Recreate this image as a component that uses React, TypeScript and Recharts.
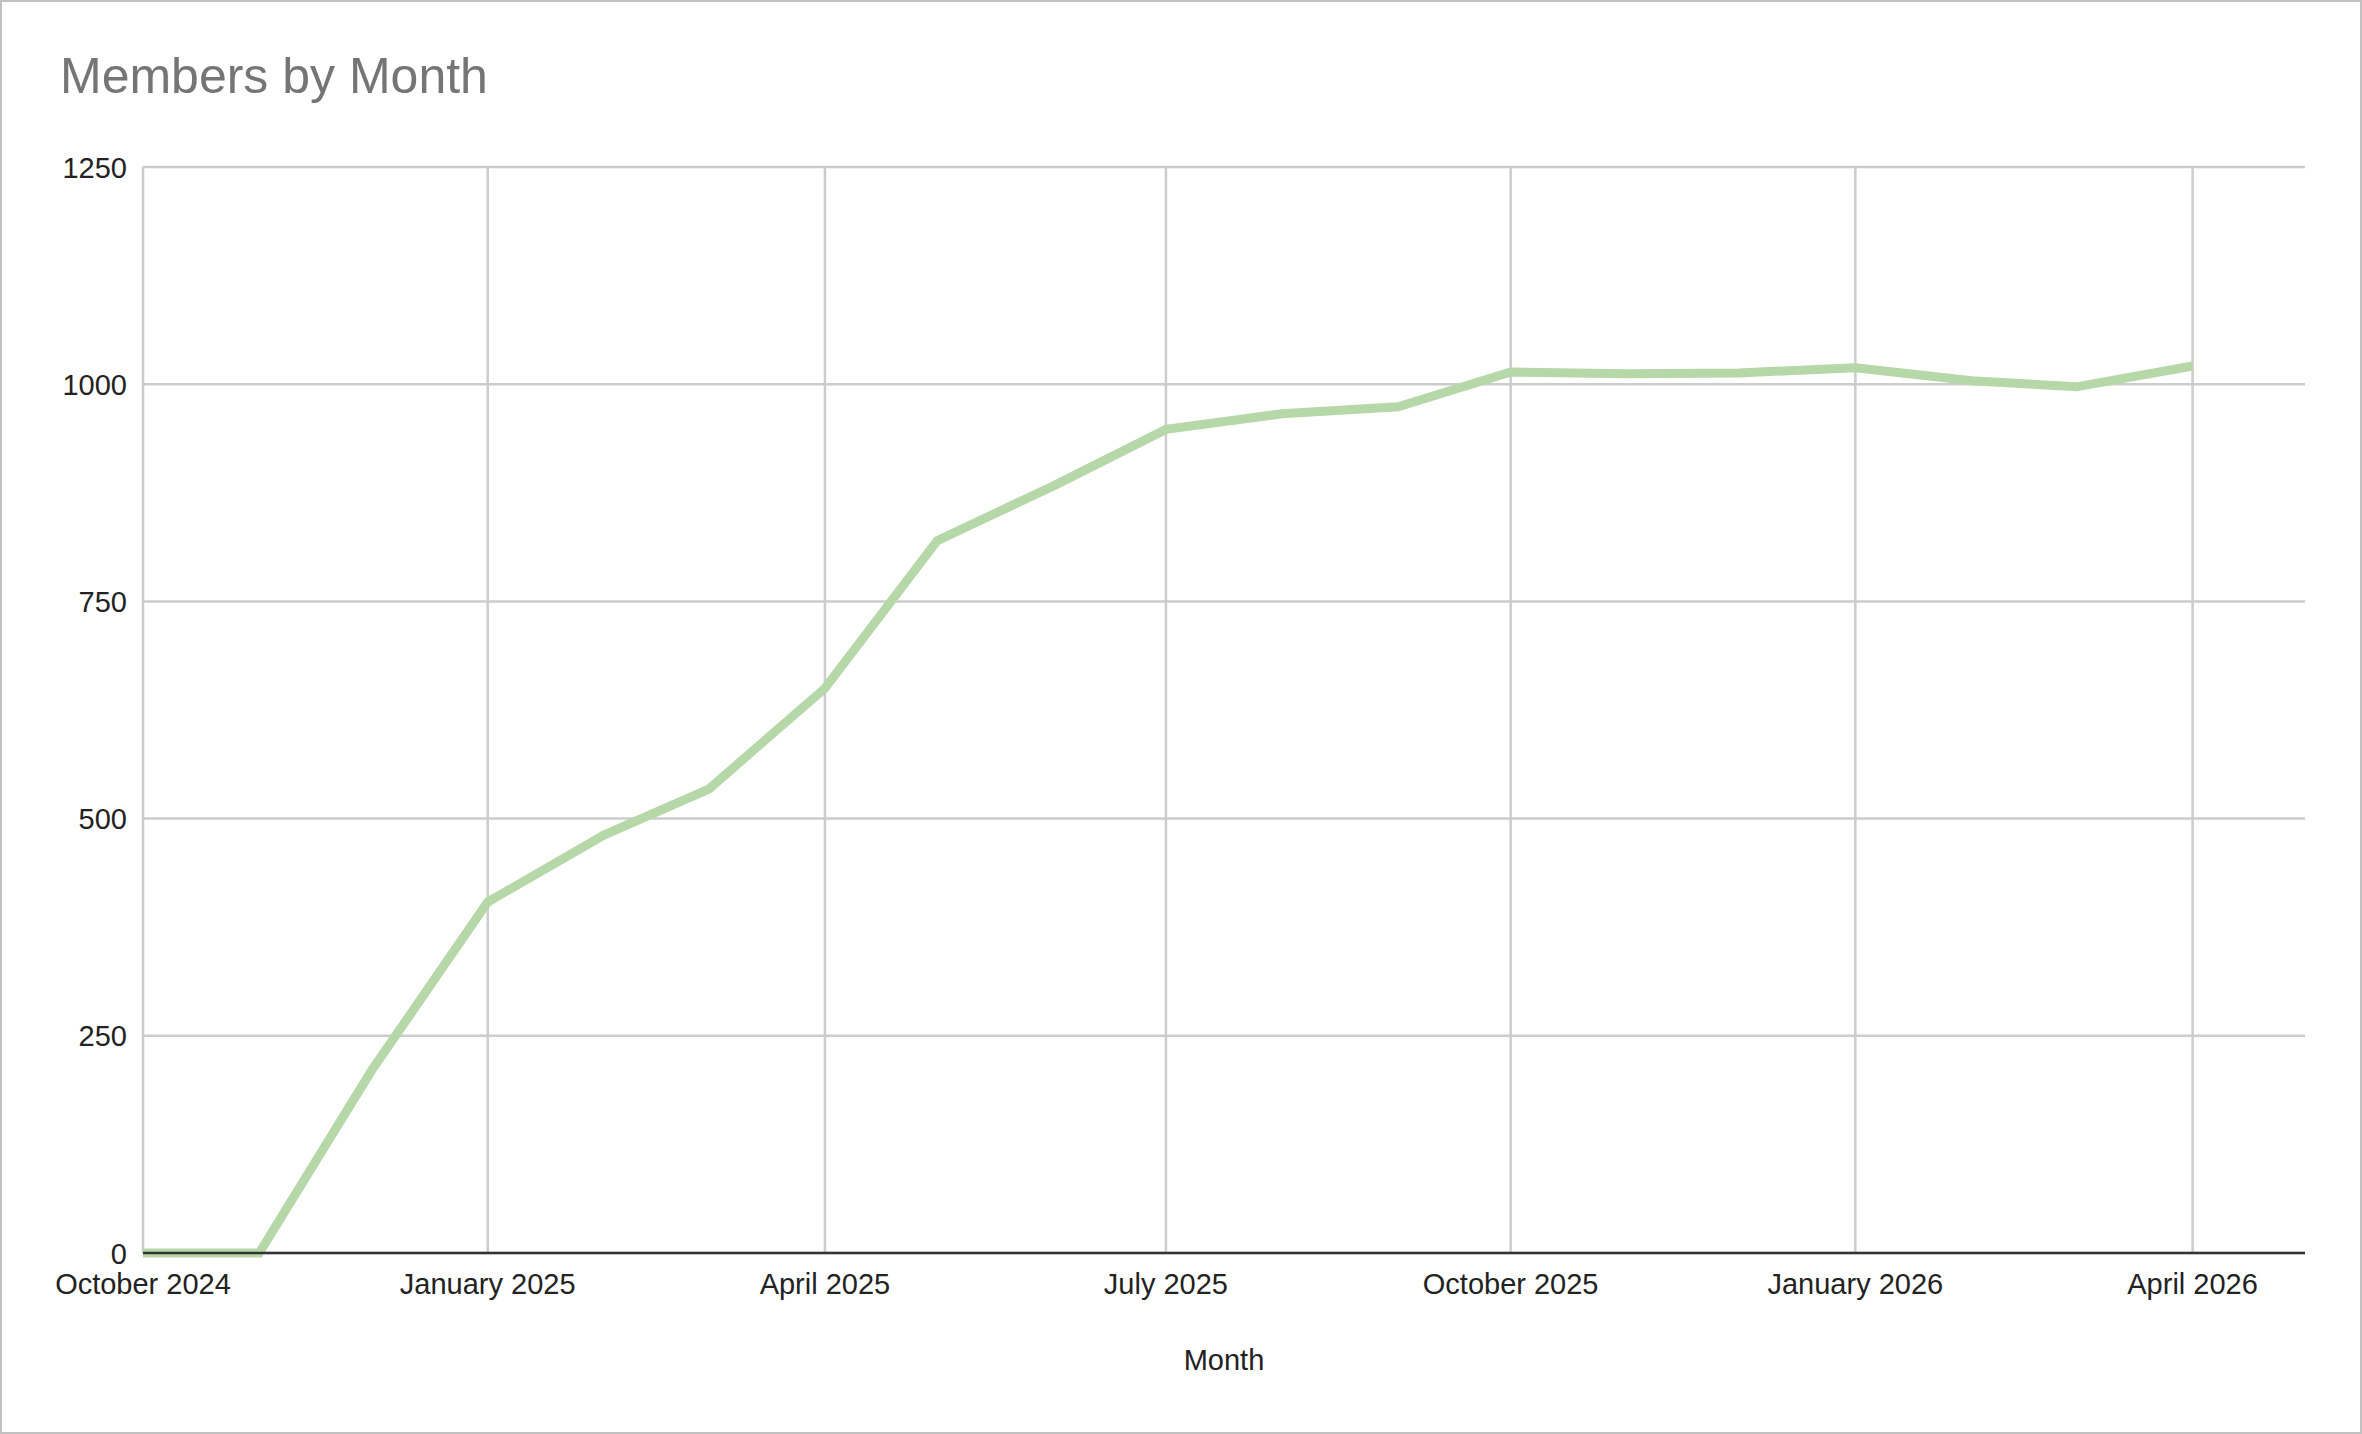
import React from 'react';
import { LineChart, Line, XAxis, YAxis, CartesianGrid } from 'recharts';

const months = [
  '2024-10', '2024-11', '2024-12', '2025-01', '2025-02', '2025-03', '2025-04',
  '2025-05', '2025-06', '2025-07', '2025-08', '2025-09', '2025-10', '2025-11',
  '2025-12', '2026-01', '2026-02', '2026-03', '2026-04',
];
const members = [
  0, 0, 210, 404, 481, 534, 650,
  820, 883, 948, 966, 974, 1014, 1012,
  1013, 1019, 1004, 997, 1021,
];
const xTickMonths = ['2024-10', '2025-01', '2025-04', '2025-07', '2025-10', '2026-01', '2026-04'];
const xDomainMonths = ['2024-10', '2026-05'];
const yTicks = [0, 250, 500, 750, 1000, 1250];
const monthNames = [
  'January', 'February', 'March', 'April', 'May', 'June',
  'July', 'August', 'September', 'October', 'November', 'December',
];

const toTs = (s: string) => Date.UTC(+s.slice(0, 4), +s.slice(5, 7) - 1, 1);
const fmt = (v: number) => {
  const d = new Date(v);
  return `${monthNames[d.getUTCMonth()]} ${d.getUTCFullYear()}`;
};

const data = months.map((m, i) => ({ t: toTs(m), members: members[i] }));

const FONT = "Arial, 'Liberation Sans', sans-serif";
const W = 2362;
const H = 1434;

const XTick = (props: any) => {
  const { x, y, payload } = props;
  return (
    <text x={x} y={y} dy={41} textAnchor="middle" fill="#222222" fontSize={29} fontFamily={FONT}>
      {fmt(payload.value)}
    </text>
  );
};

const YTick = (props: any) => {
  const { x, y, payload } = props;
  return (
    <text x={x} y={y} dy={10.5} textAnchor="end" fill="#222222" fontSize={29} fontFamily={FONT}>
      {payload.value}
    </text>
  );
};

export default function App() {
  return (
    <div style={{ position: 'absolute', left: 0, top: 0, width: W, height: H, background: '#fff', fontFamily: FONT }}>
      <LineChart
        width={W}
        height={H}
        data={data}
        margin={{ top: 167, right: 57, bottom: 81, left: 0 }}
      >
        <CartesianGrid stroke="#cccccc" strokeWidth={2.5} syncWithTicks />
        <XAxis
          dataKey="t"
          type="number"
          domain={xDomainMonths.map(toTs)}
          ticks={xTickMonths.map(toTs)}
          interval={0}
          height={100}
          tickSize={0}
          tickMargin={0}
          tickLine={false}
          axisLine={{ stroke: '#333333', strokeWidth: 2.5 }}
          tick={<XTick />}
          label={(props: any) => {
            const vb = props.viewBox;
            return (
              <text
                x={vb.x + vb.width / 2}
                y={vb.y + 117}
                textAnchor="middle"
                fill="#222222"
                fontSize={29}
                fontFamily={FONT}
              >
                Month
              </text>
            );
          }}
        />
        <YAxis
          type="number"
          domain={[0, 1250]}
          ticks={yTicks}
          width={143}
          tickSize={0}
          tickMargin={16}
          tickLine={false}
          axisLine={false}
          interval={0}
          tick={<YTick />}
        />
        <Line
          type="linear"
          dataKey="members"
          stroke="#b6d7a8"
          strokeWidth={9}
          dot={false}
          activeDot={false}
          isAnimationActive={false}
        />
      </LineChart>
      <svg width={W} height={130} style={{ position: 'absolute', left: 0, top: 0, pointerEvents: 'none' }}>
        <text x={60} y={93} fontSize={50} fill="#757575" fontFamily={FONT}>
          Members by Month
        </text>
      </svg>
      <div
        style={{
          position: 'absolute',
          left: 0,
          top: 0,
          width: W,
          height: H,
          boxSizing: 'border-box',
          border: '2px solid #c0c0c0',
          pointerEvents: 'none',
        }}
      />
    </div>
  );
}
